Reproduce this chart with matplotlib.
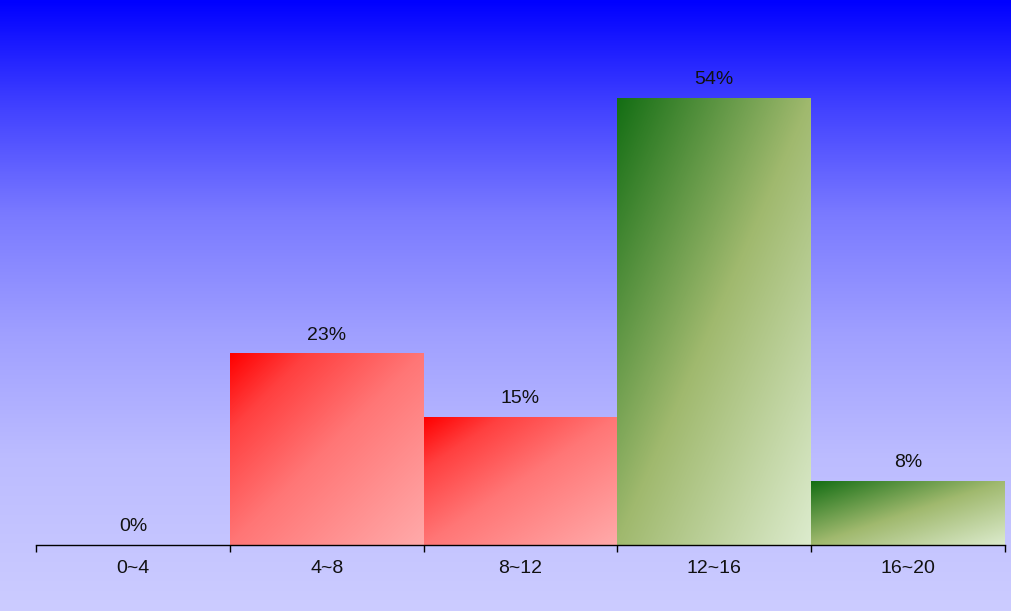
import numpy as np
import matplotlib.pyplot as plt
from matplotlib.colors import LinearSegmentedColormap

# histogram data
bin_edges = [0, 4, 8, 12, 16, 20]
bin_labels = ['0~4', '4~8', '8~12', '12~16', '16~20']
counts = [0, 3, 2, 7, 1]
bar_group = ['red', 'red', 'red', 'green', 'green']

total = sum(counts)
percent = [c / total * 100 for c in counts]

plt.rcParams['font.family'] = ['Liberation Sans', 'DejaVu Sans']

red_cmap = LinearSegmentedColormap.from_list(
    'redgrad', [(0, '#ff0000'), (0.2, '#ff4040'), (0.5, '#ff7676'), (1, '#ffaaaa')])
green_cmap = LinearSegmentedColormap.from_list(
    'greengrad', [(0, '#146e14'), (0.5, '#a0b96e'), (1, '#dcebcd')])
cmaps = {'red': red_cmap, 'green': green_cmap}
bg_cmap = LinearSegmentedColormap.from_list(
    'bg', [(0, '#0000ff'), (0.17, '#4040ff'), (0.35, '#7a7aff'),
           (0.55, '#a0a0ff'), (0.75, '#bcbcff'), (1, '#ccccff')])

fig = plt.figure(figsize=(10.12, 6.11), dpi=100)

# background gradient
bg = fig.add_axes([0, 0, 1, 1])
bg.imshow(np.linspace(0, 1, 256).reshape(-1, 1), cmap=bg_cmap,
          aspect='auto', extent=[0, 1, 0, 1], origin='upper')
bg.set_axis_off()

ax = fig.add_axes([36 / 1012, 66 / 611, 969 / 1012, 545 / 611])
ax.patch.set_alpha(0)

n = 200
u = np.linspace(0, 1, n)
grad = (u[None, :] + u[:, None]) / 2

for i, p in enumerate(percent):
    x0, x1 = bin_edges[i], bin_edges[i + 1]
    if p > 0:
        bar = ax.bar(x0, p, width=x1 - x0, align='edge',
                     facecolor='none', edgecolor='none')[0]
        im = ax.imshow(grad, cmap=cmaps[bar_group[i]], aspect='auto',
                       extent=[x0, x1, 0, p], origin='upper',
                       interpolation='bilinear')
        im.set_clip_path(bar)
    ax.annotate(f'{p:.0f}%', ((x0 + x1) / 2, p), xytext=(0, 10),
                textcoords='offset points', ha='center', va='baseline',
                fontsize=14, color='#111111')

ax.set_xlim(bin_edges[0], bin_edges[-1])
ax.set_ylim(0, 545 / (447 / (7 / 13 * 100)))

for s in ['top', 'right', 'left']:
    ax.spines[s].set_visible(False)
ax.spines['bottom'].set_linewidth(1)
ax.set_yticks([])

ax.set_xticks(bin_edges)
ax.set_xticklabels([])
ax.tick_params(axis='x', which='major', length=5, width=1, direction='out')
centers = [(bin_edges[i] + bin_edges[i + 1]) / 2 for i in range(len(bin_labels))]
ax.set_xticks(centers, minor=True)
ax.set_xticklabels(bin_labels, minor=True, fontsize=14, color='#111111')
ax.tick_params(axis='x', which='minor', length=0, pad=11)

fig.savefig('out.png', dpi=100)
